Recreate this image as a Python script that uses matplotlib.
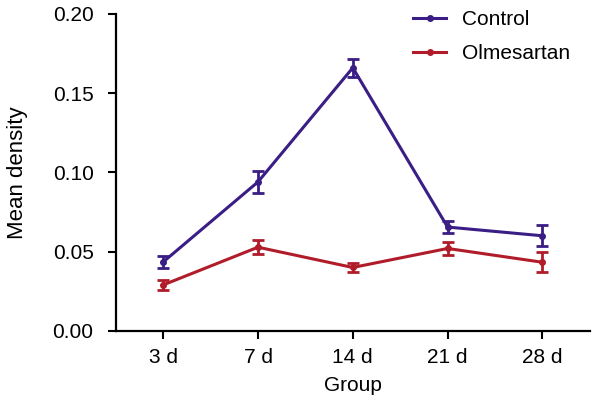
import matplotlib
matplotlib.use("Agg")
import matplotlib.pyplot as plt

plt.rcParams['font.family'] = ['Liberation Sans', 'DejaVu Sans']

groups = ["3 d", "7 d", "14 d", "21 d", "28 d"]
control = [0.0435, 0.094, 0.166, 0.0655, 0.060]
control_err = [0.0037, 0.0068, 0.0056, 0.0037, 0.0066]
olme = [0.029, 0.0528, 0.0400, 0.0520, 0.0433]
olme_err = [0.0034, 0.0045, 0.0027, 0.0042, 0.0063]

c_col = "#3a1d85"
o_col = "#b01c2a"

fig = plt.figure(figsize=(6, 4.08), dpi=100)
ax = fig.add_axes([0.193, 0.189, 0.79, 0.777])
x = list(range(len(groups)))
ax.errorbar(x, control, yerr=control_err, color=c_col, lw=2.2, marker='o', ms=4,
            capsize=4, capthick=2, elinewidth=2, label="Control")
ax.errorbar(x, olme, yerr=olme_err, color=o_col, lw=2.2, marker='o', ms=4,
            capsize=4, capthick=2, elinewidth=2, label="Olmesartan")

ax.set_xlim(-0.5, 4.5)
ax.set_ylim(0, 0.20)
ax.set_yticks([0.0, 0.05, 0.10, 0.15, 0.20])
ax.set_yticklabels(["0.00", "0.05", "0.10", "0.15", "0.20"])
ax.set_xticks(x)
ax.set_xticklabels(groups)
ax.tick_params(labelsize=15, width=1.5, length=6, color='black')
ax.tick_params(axis='y', pad=10)
ax.tick_params(axis='x', pad=6)
for s in ['top', 'right']:
    ax.spines[s].set_visible(False)
for s in ['left', 'bottom']:
    ax.spines[s].set_linewidth(1.6)
ax.set_xlabel("Group", fontsize=15, labelpad=7)
ax.set_ylabel("Mean density", fontsize=16, labelpad=18)

h, l = ax.get_legend_handles_labels()
h = [hh[0] for hh in h]
fig.legend(h, l, loc='upper left', bbox_to_anchor=(413 / 600, 1 - 10 / 408),
           frameon=False, fontsize=15, handlelength=1.6, handletextpad=0.75,
           labelspacing=0.72, borderpad=0, borderaxespad=0)

fig.savefig("out.png", dpi=100)
